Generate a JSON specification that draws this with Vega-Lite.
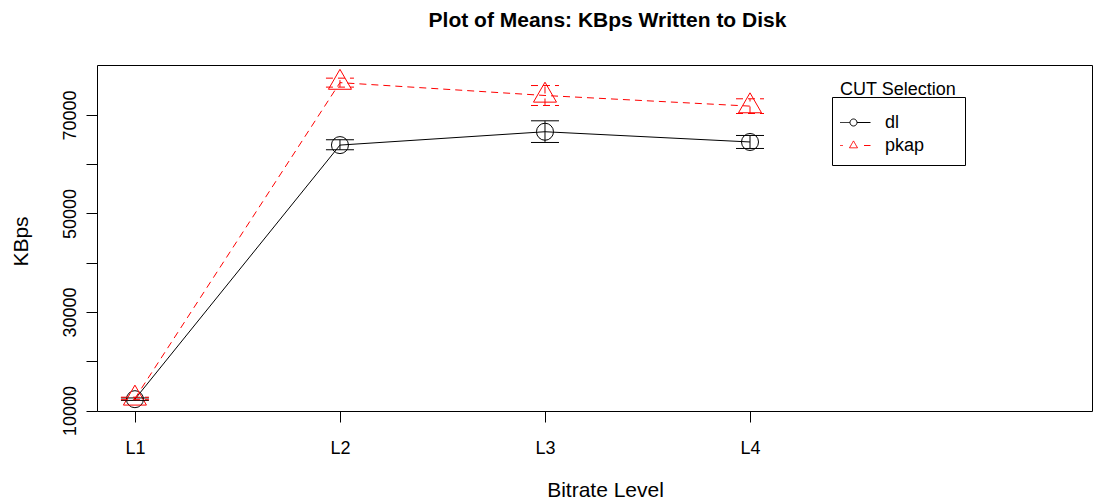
{
  "$schema": "https://vega.github.io/schema/vega-lite/v6.json",
  "width": 995,
  "height": 346,
  "autosize": {"type": "none"},
  "padding": {"left": 97, "top": 65, "right": 14, "bottom": 89},
  "background": "white",
  "config": {
    "font": "Liberation Sans",
    "view": {"stroke": "black", "strokeWidth": 1},
    "axis": {"grid": false, "domain": false, "tickColor": "black", "tickSize": 11, "tickWidth": 1, "labelColor": "black", "labelFontSize": 18, "titleColor": "black", "titleFontSize": 21, "titleFontWeight": "normal", "labelFont": "Liberation Sans", "titleFont": "Liberation Sans"}
  },
  "title": {
    "text": "Plot of Means: KBps Written to Disk",
    "fontSize": 21,
    "fontWeight": "bold",
    "font": "Liberation Sans",
    "color": "black",
    "anchor": "middle",
    "frame": "group",
    "offset": 34,
    "dx": 13
  },
  "data": {
    "values": [
      {"level": 1, "cut": "dl", "mean": 12300, "lo": 12050, "hi": 12550},
      {"level": 2, "cut": "dl", "mean": 63890, "lo": 62940, "hi": 64970},
      {"level": 3, "cut": "dl", "mean": 66600, "lo": 64420, "hi": 68820},
      {"level": 4, "cut": "dl", "mean": 64520, "lo": 63200, "hi": 65840},
      {"level": 1, "cut": "pkap", "mean": 12450, "lo": 12200, "hi": 12700},
      {"level": 2, "cut": "pkap", "mean": 76570, "lo": 75660, "hi": 77480},
      {"level": 3, "cut": "pkap", "mean": 73960, "lo": 71930, "hi": 75980},
      {"level": 4, "cut": "pkap", "mean": 71800, "lo": 70300, "hi": 73290}
    ]
  },
  "encoding": {
    "x": {
      "field": "level",
      "type": "quantitative",
      "scale": {"domain": [0.815, 5.668], "nice": false, "zero": false},
      "axis": {
        "title": "Bitrate Level",
        "values": [1, 2, 3, 4],
        "labelExpr": "'L' + datum.value",
        "labelBaseline": "alphabetic",
        "labelPadding": 31,
        "titleBaseline": "alphabetic",
        "titleAlign": "center",
        "titleX": 508,
        "titleY": 85
      }
    },
    "color": {
      "field": "cut",
      "type": "nominal",
      "scale": {"domain": ["dl", "pkap"], "range": ["black", "#ff0000"]},
      "legend": {
        "title": "CUT Selection",
        "orient": "none",
        "legendX": 735,
        "legendY": 32,
        "strokeColor": "black",
        "padding": 8,
        "titleFontSize": 18,
        "titleFontWeight": "normal",
        "titleColor": "black",
        "titleFont": "Liberation Sans",
        "titlePadding": -12,
        "labelFontSize": 18,
        "labelColor": "black",
        "labelFont": "Liberation Sans",
        "labelOffset": 14,
        "symbolOffset": -4,
        "symbolSize": 1156,
        "symbolStrokeWidth": 1,
        "symbolType": "stroke",
        "clipHeight": 23,
        "rowPadding": 0,
        "encode": {
          "title": {"update": {"dy": {"value": -24}}},
          "symbols": {
            "update": {
              "shape": {"signal": "datum.value === 'dl' ? 'M-1,0L-0.206,0M0.206,0L1,0M0.206,0A0.206,0.206,0,1,1,-0.206,0A0.206,0.206,0,1,1,0.206,0' : 'M-1,0L-0.62,0M0.62,0L1,0M0,-0.27L0.235,0.136L-0.235,0.136Z'"},
              "fill": {"value": "transparent"},
              "strokeDash": {"value": [1, 0]}
            }
          }
        }
      }
    }
  },
  "layer": [
    {
      "transform": [{"filter": "datum.cut === 'dl'"}],
      "mark": {"type": "line", "strokeWidth": 1},
      "encoding": {
        "y": {
          "field": "mean",
          "type": "quantitative",
          "scale": {"domain": [9900, 80150], "nice": false, "zero": false},
          "axis": {
            "title": "KBps",
            "values": [10000, 20000, 30000, 40000, 50000, 60000, 70000],
            "labelExpr": "datum.value % 20000 == 10000 ? format(datum.value, 'd') : ''",
            "labelAngle": 270,
            "labelAlign": "center",
            "labelBaseline": "alphabetic",
            "labelPadding": 11,
            "titleAngle": 270,
            "titleBaseline": "alphabetic",
            "titleAlign": "center",
            "titleX": -70,
            "titleY": 176
          }
        }
      }
    },
    {
      "transform": [{"filter": "datum.cut === 'pkap'"}],
      "mark": {"type": "line", "strokeWidth": 1, "strokeDash": [7, 5]},
      "encoding": {"y": {"field": "mean", "type": "quantitative"}}
    },
    {
      "transform": [{"filter": "datum.cut === 'dl'"}],
      "mark": {"type": "point", "shape": "circle", "size": 289, "filled": false, "strokeWidth": 1, "opacity": 1},
      "encoding": {"y": {"field": "mean", "type": "quantitative"}}
    },
    {
      "transform": [{"filter": "datum.cut === 'pkap'"}],
      "mark": {"type": "point", "shape": "M0,-1L0.866,0.5L-0.866,0.5Z", "size": 707, "filled": false, "strokeWidth": 1, "opacity": 1},
      "encoding": {"y": {"field": "mean", "type": "quantitative"}}
    },
    {
      "transform": [{"filter": "datum.cut === 'dl'"}],
      "mark": {"type": "rule", "strokeWidth": 1},
      "encoding": {"y": {"field": "lo", "type": "quantitative"}, "y2": {"field": "hi"}}
    },
    {
      "transform": [{"filter": "datum.cut === 'dl'"}],
      "mark": {"type": "rule", "strokeWidth": 1, "xOffset": -14, "x2Offset": 14},
      "encoding": {"y": {"field": "hi", "type": "quantitative"}, "x2": {"field": "level"}}
    },
    {
      "transform": [{"filter": "datum.cut === 'dl'"}],
      "mark": {"type": "rule", "strokeWidth": 1, "xOffset": -14, "x2Offset": 14},
      "encoding": {"y": {"field": "lo", "type": "quantitative"}, "x2": {"field": "level"}}
    },
    {
      "transform": [{"filter": "datum.cut === 'pkap'"}],
      "mark": {"type": "rule", "strokeWidth": 1, "strokeDash": [7, 5]},
      "encoding": {"y": {"field": "lo", "type": "quantitative"}, "y2": {"field": "hi"}}
    },
    {
      "transform": [{"filter": "datum.cut === 'pkap'"}],
      "mark": {"type": "rule", "strokeWidth": 1, "strokeDash": [7, 5], "xOffset": -14, "x2Offset": 14},
      "encoding": {"y": {"field": "hi", "type": "quantitative"}, "x2": {"field": "level"}}
    },
    {
      "transform": [{"filter": "datum.cut === 'pkap'"}],
      "mark": {"type": "rule", "strokeWidth": 1, "strokeDash": [7, 5], "xOffset": -14, "x2Offset": 14},
      "encoding": {"y": {"field": "lo", "type": "quantitative"}, "x2": {"field": "level"}}
    }
  ]
}
